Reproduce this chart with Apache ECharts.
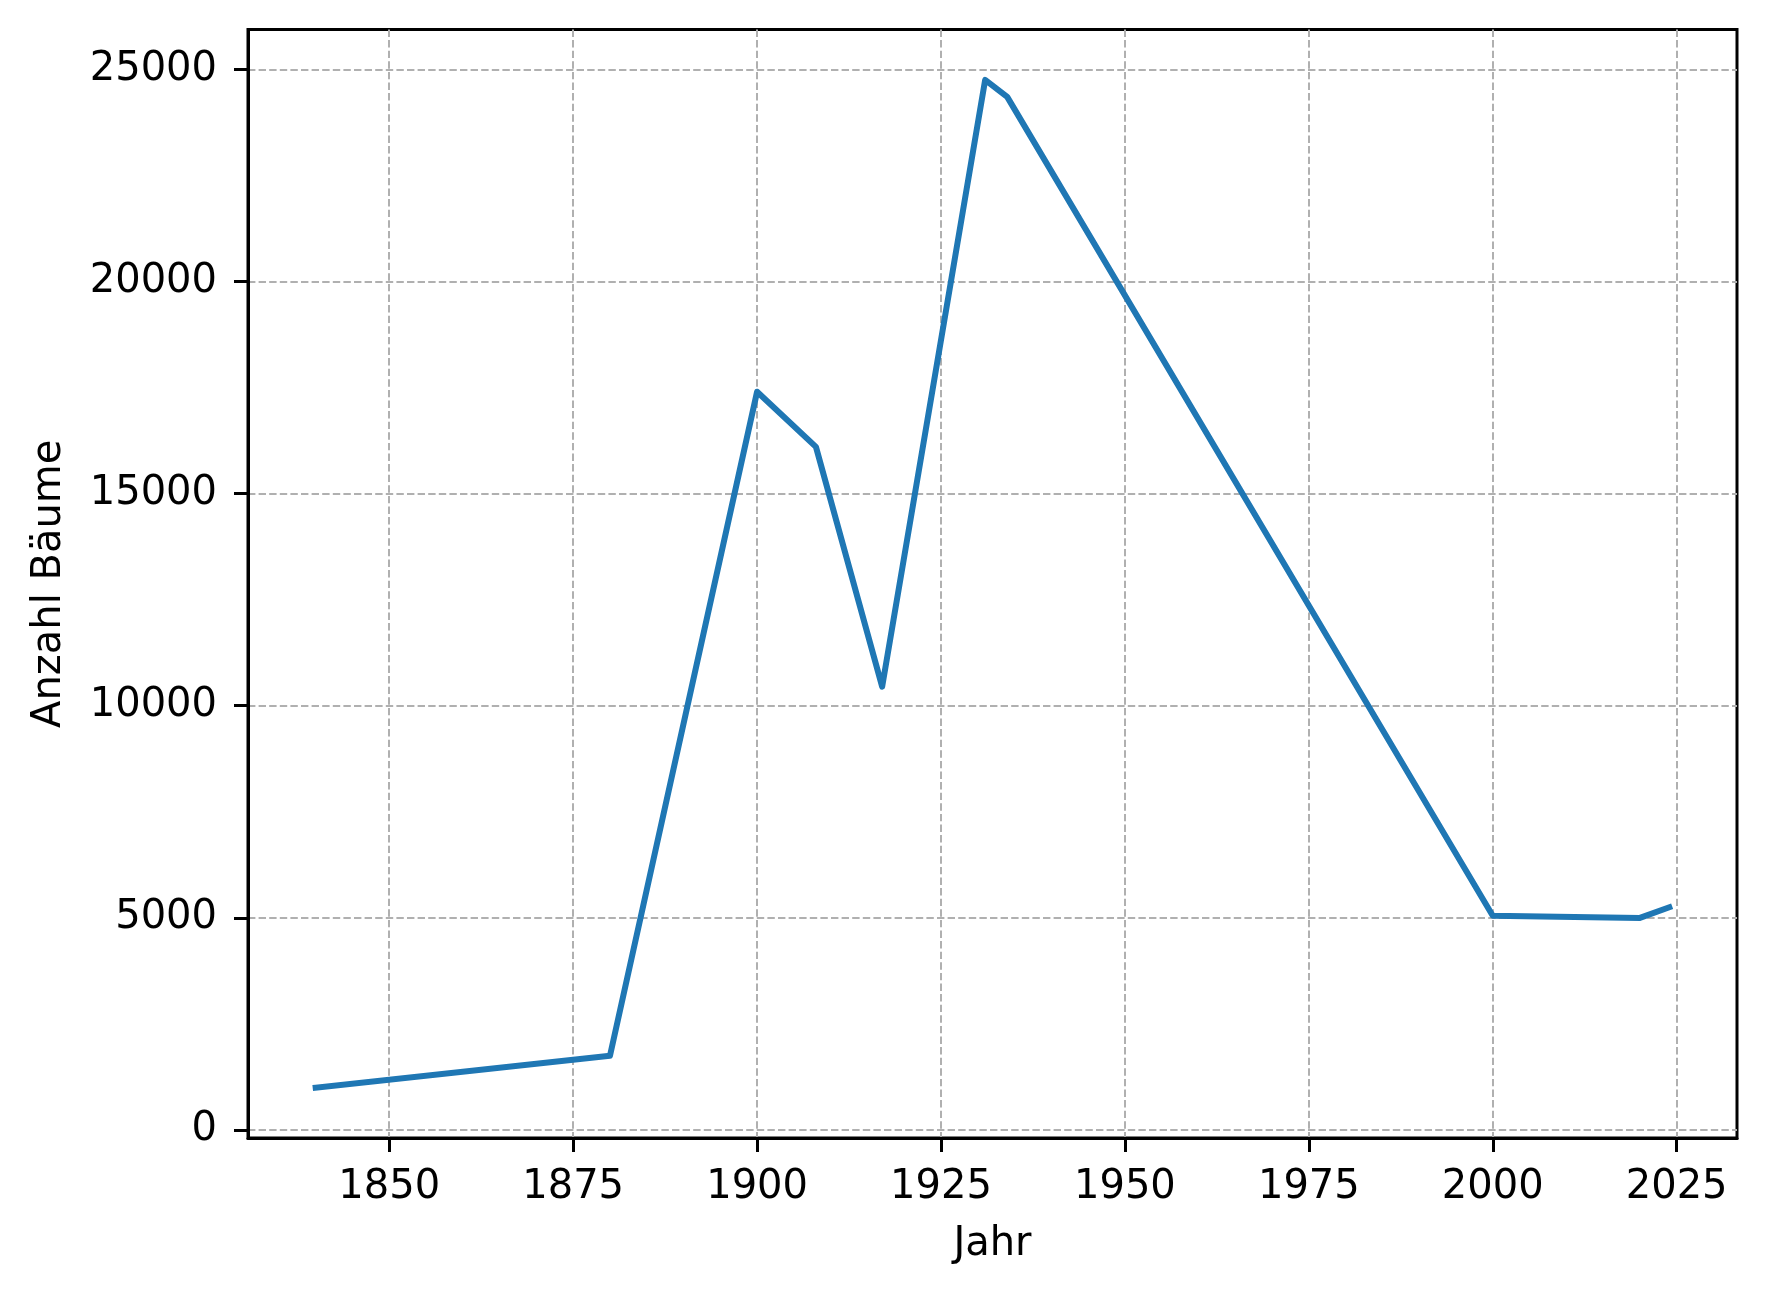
<!DOCTYPE html>
<html>
<head>
<meta charset="utf-8">
<script src="https://cdn.jsdelivr.net/npm/echarts@6/dist/echarts.min.js"></script>
<style>
  html, body { margin: 0; padding: 0; background: #fff; }
  #chart { width: 1766px; height: 1294px; }
</style>
</head>
<body>
<div id="chart"></div>
<script>
// ---- data ----
const years  = [1840, 1880, 1900, 1908, 1917, 1931, 1934, 2000, 2020, 2024];
const trees  = [1000, 1750, 17400, 16100, 10450, 24750, 24350, 5050, 5000, 5250];
const xTicks = [1850, 1875, 1900, 1925, 1950, 1975, 2000, 2025];
const yTicks = [0, 5000, 10000, 15000, 20000, 25000];
const xName = 'Jahr';
const yName = 'Anzahl Bäume';

// matplotlib-like 5% auto margins
const xMinD = Math.min(...years), xMaxD = Math.max(...years);
const yMinD = Math.min(...trees), yMaxD = Math.max(...trees);
const xPad = (xMaxD - xMinD) * 0.05, yPad = (yMaxD - yMinD) * 0.05;

const FONT = 'DejaVu Sans';
const gridLine = { show: true, lineStyle: { color: '#b0b0b0', width: 2, type: [7.4, 3.2] } };

const chart = echarts.init(document.getElementById('chart'), null, { renderer: 'canvas' });
chart.setOption({
  animation: false,
  backgroundColor: '#ffffff',
  grid: {
    left: 248, right: 29, top: 29.5, bottom: 156,
    show: true, borderColor: '#000', borderWidth: 3, backgroundColor: 'transparent'
  },
  xAxis: {
    type: 'value',
    min: xMinD - xPad, max: xMaxD + xPad,
    name: xName, nameLocation: 'middle', nameGap: 87,
    nameTextStyle: { fontFamily: FONT, fontSize: 40, color: '#000' },
    axisLine: { show: true, onZero: false, lineStyle: { color: '#000', width: 3 } },
    axisTick: { show: true, length: 14, inside: false, customValues: xTicks, lineStyle: { color: '#000', width: 3 } },
    axisLabel: { show: true, customValues: xTicks, margin: 30, fontFamily: FONT, fontSize: 40, color: '#000', formatter: v => String(v) },
    splitLine: gridLine
  },
  yAxis: {
    type: 'value',
    min: yMinD - yPad, max: yMaxD + yPad,
    name: yName, nameLocation: 'middle', nameGap: 178, nameRotate: 90,
    nameTextStyle: { fontFamily: FONT, fontSize: 40, color: '#000' },
    axisLine: { show: true, onZero: false, lineStyle: { color: '#000', width: 3 } },
    axisTick: { show: true, length: 14, inside: false, customValues: yTicks, lineStyle: { color: '#000', width: 3 } },
    axisLabel: { show: true, customValues: yTicks, margin: 31, padding: [5, 0, 0, 0], fontFamily: FONT, fontSize: 40, color: '#000', formatter: v => String(v) },
    splitLine: gridLine
  },
  series: [{
    type: 'line',
    data: years.map((y, i) => [y, trees[i]]),
    showSymbol: false,
    symbol: 'none',
    lineStyle: { color: '#1f77b4', width: 6, cap: 'square', join: 'round' },
    z: 5
  }]
});
</script>
</body>
</html>
